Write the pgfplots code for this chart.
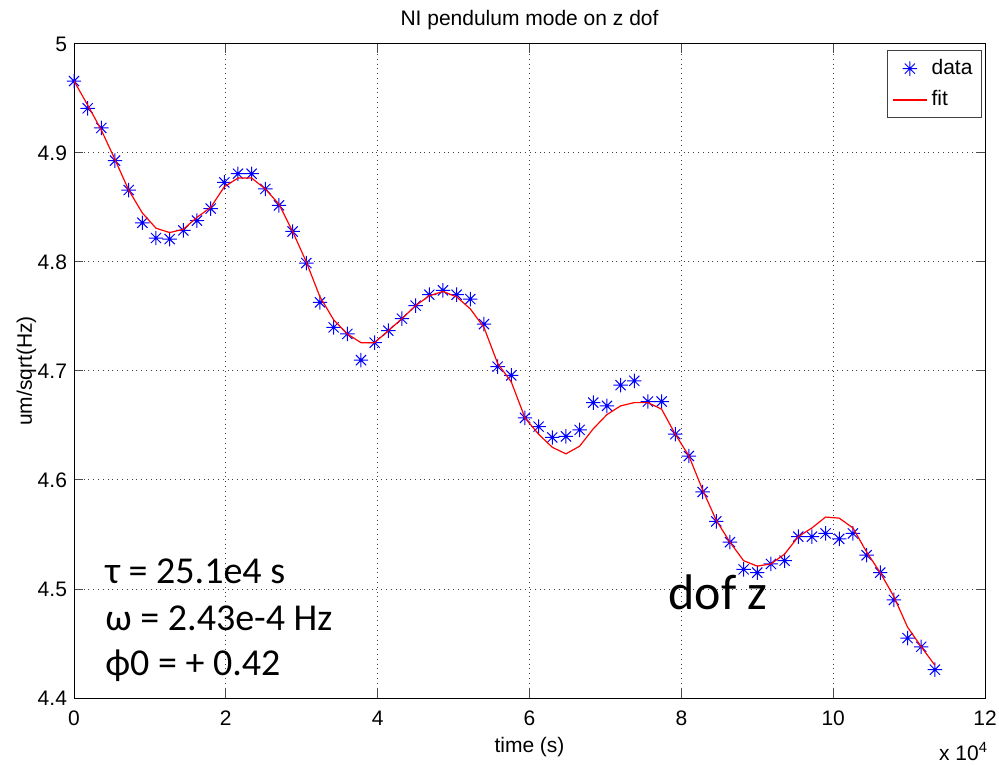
\documentclass[border=0pt]{standalone}
\usepackage{fontspec}
\setmainfont{Liberation Sans}
\newfontfamily\calibri{Carlito}
\usepackage{pgfplots}
\pgfplotsset{compat=1.18}
\usepackage{pgfplotstable}

% eight-armed asterisk marker
\pgfdeclareplotmark{mstar}{%
  \pgfpathmoveto{\pgfqpoint{-\pgfplotmarksize}{0pt}}%
  \pgfpathlineto{\pgfqpoint{\pgfplotmarksize}{0pt}}%
  \pgfpathmoveto{\pgfqpoint{0pt}{-\pgfplotmarksize}}%
  \pgfpathlineto{\pgfqpoint{0pt}{\pgfplotmarksize}}%
  \pgfpathmoveto{\pgfqpoint{-0.7071\pgfplotmarksize}{-0.7071\pgfplotmarksize}}%
  \pgfpathlineto{\pgfqpoint{0.7071\pgfplotmarksize}{0.7071\pgfplotmarksize}}%
  \pgfpathmoveto{\pgfqpoint{-0.7071\pgfplotmarksize}{0.7071\pgfplotmarksize}}%
  \pgfpathlineto{\pgfqpoint{0.7071\pgfplotmarksize}{-0.7071\pgfplotmarksize}}%
  \pgfusepathqstroke}

% time in units of 1e4 s, amplitude in um/sqrt(Hz)
\pgfplotstableread{
t y
0.00 4.966
0.18 4.941
0.36 4.923
0.54 4.893
0.72 4.866
0.90 4.836
1.08 4.822
1.26 4.821
1.44 4.829
1.62 4.838
1.80 4.849
1.98 4.873
2.16 4.881
2.34 4.881
2.52 4.867
2.70 4.852
2.88 4.828
3.06 4.799
3.24 4.763
3.42 4.740
3.60 4.734
3.78 4.710
3.96 4.726
4.14 4.737
4.32 4.748
4.50 4.760
4.68 4.770
4.86 4.774
5.04 4.770
5.22 4.766
5.40 4.743
5.58 4.704
5.76 4.696
5.94 4.657
6.12 4.649
6.30 4.639
6.48 4.640
6.66 4.646
6.84 4.671
7.02 4.668
7.20 4.687
7.38 4.691
7.56 4.672
7.74 4.672
7.92 4.642
8.10 4.622
8.28 4.589
8.46 4.562
8.64 4.543
8.82 4.518
9.00 4.515
9.18 4.523
9.36 4.526
9.54 4.548
9.72 4.548
9.90 4.551
10.08 4.546
10.26 4.551
10.44 4.531
10.62 4.515
10.80 4.490
10.98 4.455
11.16 4.447
11.34 4.426
}\measured

\pgfplotstableread{
t y
0.00 4.966
0.18 4.944
0.36 4.921
0.54 4.894
0.72 4.866
0.90 4.845
1.08 4.831
1.26 4.827
1.44 4.830
1.62 4.841
1.80 4.850
1.98 4.869
2.16 4.877
2.34 4.877
2.52 4.867
2.70 4.853
2.88 4.828
3.06 4.800
3.24 4.768
3.42 4.747
3.60 4.734
3.78 4.726
3.96 4.726
4.14 4.737
4.32 4.748
4.50 4.760
4.68 4.769
4.86 4.773
5.04 4.768
5.22 4.757
5.40 4.740
5.58 4.707
5.76 4.690
5.94 4.657
6.12 4.642
6.30 4.630
6.48 4.624
6.66 4.631
6.84 4.647
7.02 4.660
7.20 4.668
7.38 4.671
7.56 4.671
7.74 4.665
7.92 4.642
8.10 4.622
8.28 4.591
8.46 4.563
8.64 4.543
8.82 4.526
9.00 4.521
9.18 4.523
9.36 4.532
9.54 4.548
9.72 4.556
9.90 4.566
10.08 4.565
10.26 4.556
10.44 4.534
10.62 4.515
10.80 4.493
10.98 4.465
11.16 4.447
11.34 4.430
}\fitted

\begin{document}
\begin{tikzpicture}
\useasboundingbox (-37pt,-33.5pt) rectangle (462.5pt,349pt);
\begin{axis}[
  scale only axis,
  width=455.5pt, height=327pt,
  clip mode=individual,
  xmin=0, xmax=12, ymin=4.4, ymax=5,
  xtick={0,2,4,6,8,10,12},
  ytick={4.4,4.5,4.6,4.7,4.8,4.9,5},
  yticklabels={4.4,4.5,4.6,4.7,4.8,4.9,5},
  /pgf/number format/assume math mode=true,
  font=\fontsize{10.5}{12}\selectfont,
  ticklabel style={font=\fontsize{10.5}{12}\selectfont},
  xticklabel style={yshift=-3pt},
  grid=major,
  grid style={dotted, black!75, line width=0.5pt},
  tick align=inside,
  major tick length=4.5pt,
  tick style={black!70, line width=0.5pt},
  axis line style={black, line width=0.5pt},
  legend style={at={(1,1)}, anchor=north east, xshift=-1.5pt, yshift=-3pt,
    draw=black!75, line width=0.5pt, font=\fontsize{10.5}{12}\selectfont,
    inner sep=2.5pt, row sep=2.5pt},
  legend cell align=left,
]
\addplot[only marks, mark=mstar, mark size=3.6pt, blue, line width=0.5pt] table[x=t, y=y] {\measured};
\addlegendentry{data}
\addplot[red, line width=0.6pt, mark=none,
  legend image code/.code={%
    \pgfsetstrokecolor{red}\pgfsetlinewidth{0.7pt}%
    \pgfpathmoveto{\pgfpoint{0cm}{0cm}}%
    \pgfpathlineto{\pgfpoint{0.6cm}{0cm}}%
    \pgfusepath{stroke}}]
  table[x=t, y=y] {\fitted};
\addlegendentry{fit}

\node[anchor=base] at (rel axis cs:0.5,1) [yshift=9pt] {NI pendulum mode on z dof};
\node[anchor=base] at (rel axis cs:0.5,0) [yshift=-27pt] {time (s)};
\node[anchor=base east] at (rel axis cs:1,0) [yshift=-31pt, xshift=5pt] {x 10\textsuperscript{4}};
\node[anchor=base, rotate=90] at (rel axis cs:0,0.5) [yshift=21pt] {um/sqrt(Hz)};

\node[anchor=base west, font=\calibri\fontsize{19}{23}\selectfont] at (axis cs:0.32,4.5046) {τ = 25.1e4 s};
\node[anchor=base west, font=\calibri\fontsize{19}{23}\selectfont] at (axis cs:0.32,4.462) {ω = 2.43e-4 Hz};
\node[anchor=base west, font=\calibri\fontsize{19}{23}\selectfont] at (axis cs:0.32,4.4202) {ϕ0 = + 0.42};
\node[anchor=base west, font=\calibri\fontsize{25}{30}\selectfont] at (axis cs:7.74,4.4815) {dof z};
\end{axis}
\end{tikzpicture}
\end{document}
